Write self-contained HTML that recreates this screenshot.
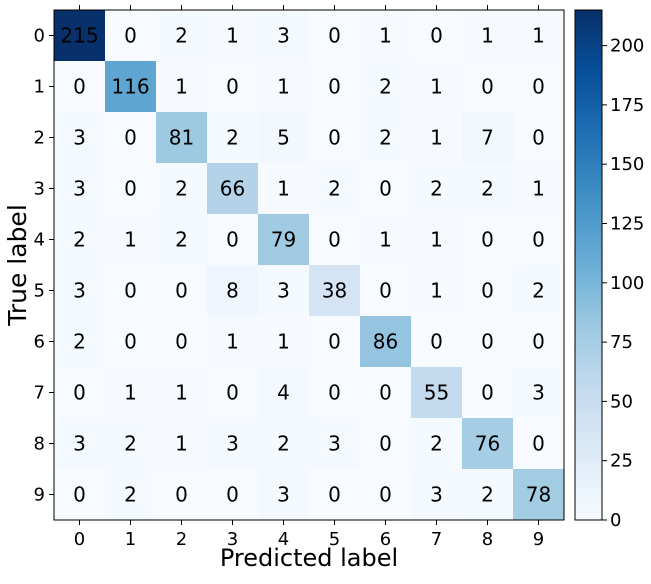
<!DOCTYPE html>
<html><head><meta charset="utf-8"><style>
body{margin:0;background:#fff;}
svg text{font-family:"DejaVu Sans","Liberation Sans",sans-serif;fill:#000;}
</style></head><body>
<svg id="c" width="651" height="579" xmlns="http://www.w3.org/2000/svg">
<defs><linearGradient id="cbg" x1="0" y1="1" x2="0" y2="0">
<stop offset="0" stop-color="#f7fbff"/><stop offset="0.125" stop-color="#deebf7"/><stop offset="0.25" stop-color="#c6dbef"/><stop offset="0.375" stop-color="#9ecae1"/><stop offset="0.5" stop-color="#6baed6"/><stop offset="0.625" stop-color="#4292c6"/><stop offset="0.75" stop-color="#2171b5"/><stop offset="0.875" stop-color="#08519c"/><stop offset="1" stop-color="#08306b"/>
</linearGradient></defs>
</svg>
<script>
const labels=['0','1','2','3','4','5','6','7','8','9'];
const row0=[215,0,2,1,3,0,1,0,1,1];
const row1=[0,116,1,0,1,0,2,1,0,0];
const row2=[3,0,81,2,5,0,2,1,7,0];
const row3=[3,0,2,66,1,2,0,2,2,1];
const row4=[2,1,2,0,79,0,1,1,0,0];
const row5=[3,0,0,8,3,38,0,1,0,2];
const row6=[2,0,0,1,1,0,86,0,0,0];
const row7=[0,1,1,0,4,0,0,55,0,3];
const row8=[3,2,1,3,2,3,0,2,76,0];
const row9=[0,2,0,0,3,0,0,3,2,78];
const cbTicks=[0,25,50,75,100,125,150,175,200];
const matrix=[row0,row1,row2,row3,row4,row5,row6,row7,row8,row9];
const NS='http://www.w3.org/2000/svg',svg=document.getElementById('c');
const X0=54,Y0=10,W=510,H=510,n=labels.length,cw=W/n,ch=H/n;
const vmax=Math.max(...matrix.flat());
const stops=['#f7fbff','#deebf7','#c6dbef','#9ecae1','#6baed6','#4292c6','#2171b5','#08519c','#08306b'].map(h=>[1,3,5].map(i=>parseInt(h.substr(i,2),16)));
function blues(t){t=Math.max(0,Math.min(1,t))*8;const i=Math.min(7,Math.floor(t)),f=t-i;const a=stops[i],b=stops[i+1];return 'rgb('+a.map((v,k)=>Math.round(v+(b[k]-v)*f)).join(',')+')';}
function mk(tag,at,txt){const e=document.createElementNS(NS,tag);for(const k in at)e.setAttribute(k,at[k]);if(txt!==undefined)e.textContent=txt;svg.appendChild(e);return e;}
const xs=j=>X0+(j+0.5)*cw, ys=i=>Y0+(i+0.5)*ch;
matrix.forEach((row,i)=>row.forEach((v,j)=>{
 const r=mk('rect',{x:X0+j*cw,y:Y0+i*ch,width:cw+0.5,height:ch+0.5,fill:blues(v/vmax)});
 
 
 const t=mk('text',{x:xs(j),y:ys(i)+7,'text-anchor':'middle','font-size':20},String(v));
 
 
}));
const fr=mk('rect',{x:X0,y:Y0,width:W,height:H,fill:'none',stroke:'#000','stroke-width':1});


labels.forEach((l,k)=>{
 mk('line',{x1:xs(k),x2:xs(k),y1:Y0+H,y2:Y0+H+5,stroke:'#000'});
 mk('line',{x1:xs(k),x2:xs(k),y1:Y0,y2:Y0-5,stroke:'#000'});
 const tx=mk('text',{x:xs(k),y:Y0+H+25,'text-anchor':'middle','font-size':18},l);
 
 
 mk('line',{x1:X0-5,x2:X0,y1:ys(k),y2:ys(k),stroke:'#000'});
 const ty=mk('text',{x:X0-9,y:ys(k)+6,'text-anchor':'end','font-size':18},l);
 
 
});
const xt=mk('text',{x:X0+W/2,y:566,'text-anchor':'middle','font-size':24},'Predicted label');


const yt=mk('text',{x:0,y:0,'text-anchor':'middle','font-size':25,transform:'translate(26,'+(Y0+H/2)+') rotate(-90)'},'True label');


const CX=575,CW=27;
const cb=mk('rect',{x:CX,y:Y0,width:CW,height:H,fill:'url(#cbg)',stroke:'#000','stroke-width':1});


cbTicks.forEach(v=>{const y=Y0+H-v/vmax*H;
 mk('line',{x1:CX+CW,x2:CX+CW+5,y1:y,y2:y,stroke:'#000'});
 const t=mk('text',{x:CX+CW+8,y:y+6,'font-size':18},String(v));
 
 
});
</script>
</body></html>
